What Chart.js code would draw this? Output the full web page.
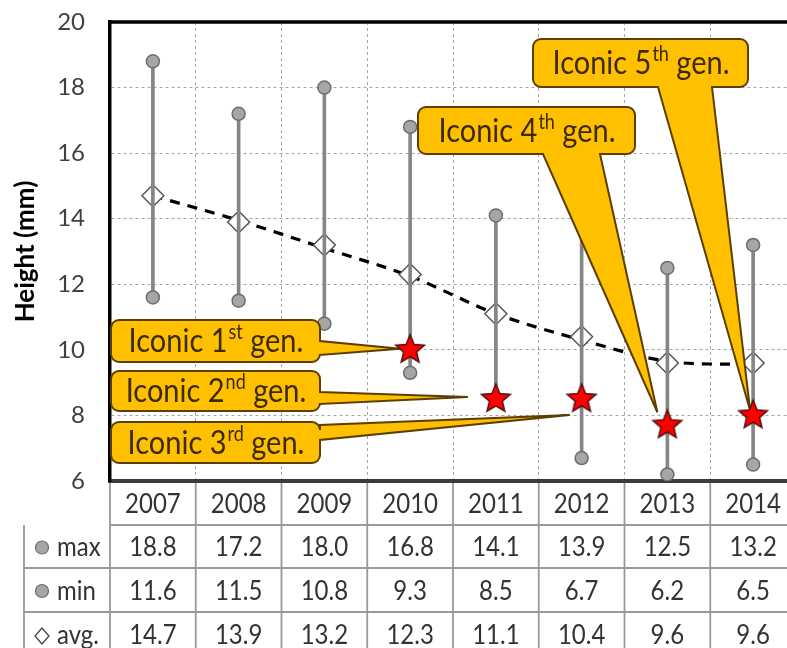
<!DOCTYPE html>
<html>
<head>
<meta charset="utf-8">
<script src="https://cdn.jsdelivr.net/npm/chart.js@4.4.1/dist/chart.umd.min.js"></script>
<style>
  html, body { margin: 0; padding: 0; overflow: hidden; background: #fff; }
  #wrap { width: 800px; height: 648px; }
</style>
</head>
<body>
<div id="wrap"><canvas id="chart"></canvas></div>
<script>
// 데이터
const years = ['2007', '2008', '2009', '2010', '2011', '2012', '2013', '2014'];
const maxValues = [18.8, 17.2, 18.0, 16.8, 14.1, 13.9, 12.5, 13.2];
const minValues = [11.6, 11.5, 10.8, 9.3, 8.5, 6.7, 6.2, 6.5];
const avgValues = [14.7, 13.9, 13.2, 12.3, 11.1, 10.4, 9.6, 9.6];
const trendValues = [14.7, 13.95, 13.1, 12.25, 11.1, 10.3, 9.65, 9.55];
const iconicValues = [null, null, null, 10.0, 8.5, 8.5, 7.7, 8.0];
const iconicGen = ['1', '2', '3', '4', '5'];
const iconicSup = ['st', 'nd', 'rd', 'th', 'th'];
const rowNames = ['max', 'min', 'avg.'];

const FONT = 'Lato, "Open Sans", sans-serif';

// 별 모양 포인트
function makeStar(r) {
    const c = document.createElement('canvas');
    const s = Math.ceil(r * 2 + 4);
    c.width = s; c.height = s;
    const g = c.getContext('2d');
    g.beginPath();
    for (let i = 0; i < 10; i++) {
        const rad = (i % 2 === 0) ? r : r * 0.45;
        const a = -Math.PI / 2 + i * Math.PI / 5;
        const px = s / 2 + Math.cos(a) * rad;
        const py = s / 2 + Math.sin(a) * rad;
        if (i === 0) g.moveTo(px, py); else g.lineTo(px, py);
    }
    g.closePath();
    g.fillStyle = '#ff0000';
    g.fill();
    g.lineWidth = 1.6;
    g.strokeStyle = '#5a1010';
    g.stroke();
    return c;
}

// 말풍선 경로
function calloutPath(ctx, x, y, w, h, r, side, a, b, tx, ty) {
    ctx.beginPath();
    ctx.moveTo(x + r, y);
    ctx.lineTo(x + w - r, y);
    ctx.arcTo(x + w, y, x + w, y + r, r);
    if (side === 'right') { ctx.lineTo(x + w, a); ctx.lineTo(tx, ty); ctx.lineTo(x + w, b); }
    ctx.lineTo(x + w, y + h - r);
    ctx.arcTo(x + w, y + h, x + w - r, y + h, r);
    if (side === 'bottom') { ctx.lineTo(b, y + h); ctx.lineTo(tx, ty); ctx.lineTo(a, y + h); }
    ctx.lineTo(x + r, y + h);
    ctx.arcTo(x, y + h, x, y + h - r, r);
    ctx.lineTo(x, y + r);
    ctx.arcTo(x, y, x + r, y, r);
    ctx.closePath();
}

// 말풍선 배치 (chartArea 기준)
const calloutLayout = [
    { x: 1, y: 298, w: 209, h: 42, side: 'right', a: 319, b: 333, dx: -10, dy: -1 },
    { x: 1, y: 349, w: 209, h: 40, side: 'right', a: 370, b: 382, dx: -28, dy: -2 },
    { x: 1, y: 400, w: 209, h: 41, side: 'right', a: 403, b: 418, dx: -12, dy: 16 },
    { x: 308, y: 85, w: 217, h: 47, side: 'bottom', a: 433, b: 490, dx: -10, dy: -13 },
    { x: 423, y: 17, w: 215, h: 48, side: 'bottom', a: 548, b: 602, dx: -3, dy: -5 }
];

// 세로로 살짝 늘린 글자
function tallText(ctx, str, x, y, sy) {
    ctx.save();
    ctx.translate(x, y);
    ctx.scale(1, sy);
    ctx.fillText(str, 0, 0);
    ctx.restore();
}

const calloutPlugin = {
    id: 'callouts',
    beforeDatasetDraw(chart, args) {
        if (args.index !== 5) return;
        const ctx = chart.ctx;
        const ca = chart.chartArea;
        const xs = chart.scales.x, ys = chart.scales.y;
        let k = 0;
        for (let i = 0; i < iconicValues.length; i++) {
            if (iconicValues[i] == null) continue;
            const L = calloutLayout[k];
            const bx = ca.left + L.x, by = ca.top + L.y;
            const tx = xs.getPixelForValue(i) + L.dx;
            const ty = ys.getPixelForValue(iconicValues[i]) + L.dy;
            let a, b;
            if (L.side === 'right') { a = ca.top + L.a; b = ca.top + L.b; }
            else { a = ca.left + L.a; b = ca.left + L.b; }
            ctx.save();
            calloutPath(ctx, bx, by, L.w, L.h, 8, L.side, a, b, tx, ty);
            ctx.fillStyle = '#ffc000';
            ctx.fill();
            ctx.lineWidth = 2;
            ctx.strokeStyle = '#5c3f00';
            ctx.stroke();

            // 글자
            const main1 = 'Iconic ' + iconicGen[k];
            const sup = iconicSup[k];
            const main2 = ' gen.';
            ctx.fillStyle = '#3d2a00';
            ctx.textBaseline = 'alphabetic';
            ctx.font = '29px ' + FONT;
            const w1 = ctx.measureText(main1).width;
            const w3 = ctx.measureText(main2).width;
            ctx.font = '18px ' + FONT;
            const w2 = ctx.measureText(sup).width;
            let sx = bx + (L.w - (w1 + w2 + w3)) / 2;
            const base = by + L.h / 2 + 11;
            ctx.font = '29px ' + FONT;
            tallText(ctx, main1, sx, base, 1.12);
            ctx.font = '18px ' + FONT;
            tallText(ctx, sup, sx + w1 + 1, base - 13, 1.12);
            ctx.font = '29px ' + FONT;
            tallText(ctx, main2, sx + w1 + w2 + 1, base, 1.12);
            ctx.restore();
            k++;
        }
    }
};

// 표 + 위쪽 테두리
const tablePlugin = {
    id: 'dataTable',
    afterDraw(chart) {
        const ctx = chart.ctx;
        const ca = chart.chartArea;
        const xs = chart.scales.x;
        const half = (xs.getPixelForValue(1) - xs.getPixelForValue(0)) / 2;
        const rowTops = [ca.bottom, ca.bottom + 44, ca.bottom + 87, ca.bottom + 131, ca.bottom + 175];
        const tableLeft = 24;

        ctx.save();
        // 위쪽 테두리
        ctx.strokeStyle = '#000';
        ctx.lineWidth = 3.5;
        ctx.beginPath();
        ctx.moveTo(ca.left - 2, ca.top);
        ctx.lineTo(ca.right, ca.top);
        ctx.stroke();

        // 표 선
        ctx.strokeStyle = '#9a9a9a';
        ctx.lineWidth = 1.8;
        ctx.beginPath();
        for (let r = 1; r < rowTops.length; r++) {
            ctx.moveTo(r === 1 ? ca.left : tableLeft, rowTops[r]);
            ctx.lineTo(ca.right, rowTops[r]);
        }
        for (let i = 0; i <= years.length; i++) {
            const px = xs.getPixelForValue(0) - half + i * half * 2;
            ctx.moveTo(px, ca.bottom + 2);
            ctx.lineTo(px, rowTops[4]);
        }
        ctx.moveTo(tableLeft, rowTops[1]);
        ctx.lineTo(tableLeft, rowTops[4]);
        ctx.stroke();

        // 글자
        ctx.fillStyle = '#333';
        ctx.font = '24px ' + FONT;
        ctx.textAlign = 'center';
        ctx.textBaseline = 'middle';
        const rows = [maxValues, minValues, avgValues];
        for (let i = 0; i < years.length; i++) {
            const cx = xs.getPixelForValue(i);
            tallText(ctx, years[i], cx, (rowTops[0] + rowTops[1]) / 2 + 1, 1.15);
            for (let r = 0; r < rows.length; r++) {
                tallText(ctx, rows[r][i].toFixed(1), cx, (rowTops[r + 1] + rowTops[r + 2]) / 2 + 1, 1.15);
            }
        }

        // 행 이름
        ctx.textAlign = 'left';
        for (let r = 0; r < rowNames.length; r++) {
            const cy = (rowTops[r + 1] + rowTops[r + 2]) / 2;
            ctx.fillStyle = '#333';
            tallText(ctx, rowNames[r], 57, cy + 1, 1.15);
            ctx.beginPath();
            if (r < 2) {
                ctx.arc(42, cy + 1, 6.5, 0, Math.PI * 2);
                ctx.fillStyle = '#a6a6a6';
                ctx.fill();
                ctx.lineWidth = 1.2;
                ctx.strokeStyle = '#6d6d6d';
                ctx.stroke();
            } else {
                ctx.moveTo(35, cy + 2);
                ctx.lineTo(42, cy - 6);
                ctx.lineTo(49, cy + 2);
                ctx.lineTo(42, cy + 10);
                ctx.closePath();
                ctx.lineWidth = 1.3;
                ctx.strokeStyle = '#444';
                ctx.stroke();
            }
        }
        ctx.restore();
    }
};

const pointBase = {
    showLine: false,
    pointStyle: 'circle',
    pointRadius: 6.5,
    pointBackgroundColor: '#a6a6a6',
    pointBorderColor: '#6d6d6d',
    pointBorderWidth: 1.5
};

new Chart(document.getElementById('chart'), {
    type: 'bar',
    data: {
        labels: years,
        datasets: [
            {
                type: 'line',
                data: trendValues,
                borderColor: '#000',
                borderWidth: 3.2,
                borderDash: [10, 8],
                pointRadius: 0,
                tension: 0.3,
                fill: false,
                order: 5
            },
            {
                type: 'line',
                data: avgValues,
                showLine: false,
                pointStyle: 'rectRot',
                pointRadius: 11,
                pointBackgroundColor: '#fff',
                pointBorderColor: '#555',
                pointBorderWidth: 1.5,
                order: 4
            },
            {
                data: minValues.map((v, i) => [v, maxValues[i]]),
                backgroundColor: '#858585',
                barThickness: 3,
                order: 3
            },
            Object.assign({ type: 'line', data: maxValues, order: 2 }, pointBase),
            Object.assign({ type: 'line', data: minValues, order: 1 }, pointBase),
            {
                type: 'line',
                data: iconicValues,
                showLine: false,
                pointStyle: makeStar(15),
                pointRadius: 15,
                order: 0
            }
        ]
    },
    options: {
        responsive: true,
        maintainAspectRatio: false,
        animation: false,
        events: [],
        layout: { autoPadding: false, padding: { left: 0, top: 22, right: 4, bottom: 167 } },
        plugins: { legend: { display: false }, tooltip: { enabled: false } },
        scales: {
            x: {
                offset: true,
                grid: { offset: true, color: '#a6a6a6', lineWidth: 1, drawTicks: false },
                border: { display: true, color: '#3c3c3c', width: 4, dash: [3, 3] },
                ticks: { display: false },
                afterFit: (scale) => { scale.height = 0; }
            },
            y: {
                min: 6,
                max: 20,
                ticks: { stepSize: 2, color: '#404040', padding: 0, font: { family: FONT, size: 24 } },
                grid: { color: '#a6a6a6', lineWidth: 1, drawTicks: true, tickLength: 25, tickColor: 'rgba(0,0,0,0)' },
                border: { display: true, color: '#000', width: 3.5, dash: [3, 3] },
                title: {
                    display: true,
                    text: 'Height (mm)',
                    color: '#000',
                    font: { family: FONT, size: 26, weight: 'bold' },
                    padding: { top: 10 }
                },
                afterFit: (scale) => { scale.width = 110; }
            }
        }
    },
    plugins: [calloutPlugin, tablePlugin]
});
</script>
</body>
</html>
